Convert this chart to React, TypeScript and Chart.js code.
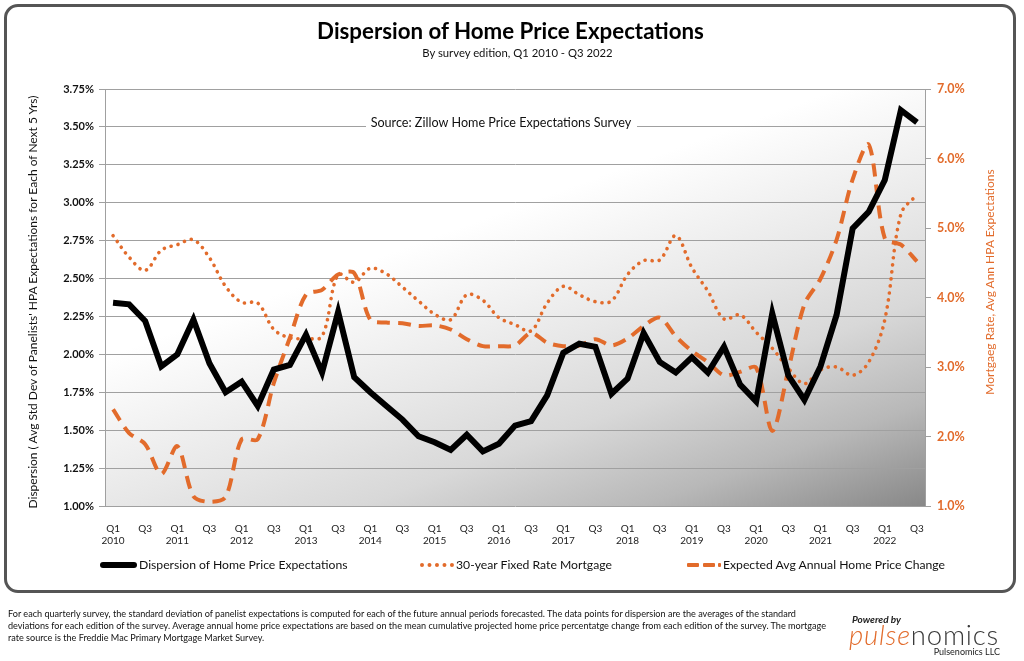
import React, { useEffect, useRef } from 'react';
import { Chart, registerables } from 'chart.js';

Chart.register(...registerables);

const quarters = [
  'Q1 2010', 'Q2 2010', 'Q3 2010', 'Q4 2010',
  'Q1 2011', 'Q2 2011', 'Q3 2011', 'Q4 2011',
  'Q1 2012', 'Q2 2012', 'Q3 2012', 'Q4 2012',
  'Q1 2013', 'Q2 2013', 'Q3 2013', 'Q4 2013',
  'Q1 2014', 'Q2 2014', 'Q3 2014', 'Q4 2014',
  'Q1 2015', 'Q2 2015', 'Q3 2015', 'Q4 2015',
  'Q1 2016', 'Q2 2016', 'Q3 2016', 'Q4 2016',
  'Q1 2017', 'Q2 2017', 'Q3 2017', 'Q4 2017',
  'Q1 2018', 'Q2 2018', 'Q3 2018', 'Q4 2018',
  'Q1 2019', 'Q2 2019', 'Q3 2019', 'Q4 2019',
  'Q1 2020', 'Q2 2020', 'Q3 2020', 'Q4 2020',
  'Q1 2021', 'Q2 2021', 'Q3 2021', 'Q4 2021',
  'Q1 2022', 'Q2 2022', 'Q3 2022',
];

// Dispersion (left axis, %)
const dispersion = [
  2.34, 2.33, 2.22, 1.92,
  2.00, 2.23, 1.94, 1.75,
  1.82, 1.66, 1.90, 1.93,
  2.13, 1.88, 2.28, 1.85,
  1.75, 1.66, 1.57, 1.46,
  1.42, 1.37, 1.47, 1.36,
  1.41, 1.53, 1.56, 1.73,
  2.01, 2.07, 2.05, 1.74,
  1.84, 2.14, 1.95, 1.88,
  1.98, 1.88, 2.05, 1.80,
  1.69, 2.27, 1.86, 1.70,
  1.92, 2.26, 2.83, 2.94,
  3.15, 3.61, 3.53,
];

// 30-year fixed rate mortgage (right axis, %)
const mortgageRate = [
  4.89, 4.58, 4.39, 4.68,
  4.76, 4.83, 4.57, 4.16,
  3.93, 3.92, 3.54, 3.42,
  3.41, 3.44, 4.33, 4.22,
  4.42, 4.34, 4.15, 3.95,
  3.76, 3.68, 4.04, 3.96,
  3.71, 3.61, 3.52, 3.92,
  4.16, 4.04, 3.94, 3.95,
  4.33, 4.53, 4.54, 4.89,
  4.43, 4.09, 3.69, 3.75,
  3.50, 3.27, 2.98, 2.76,
  2.96, 3.00, 2.88, 3.07,
  3.68, 5.20, 5.48,
];

// Expected average annual home price change (right axis, %)
const hpaExpectations = [
  2.39, 2.05, 1.89, 1.46,
  1.86, 1.14, 1.06, 1.13,
  1.96, 1.96, 2.77, 3.42,
  4.04, 4.11, 4.33, 4.35,
  3.68, 3.64, 3.63, 3.59,
  3.60, 3.54, 3.40, 3.30,
  3.30, 3.31, 3.49, 3.35,
  3.30, 3.31, 3.40, 3.31,
  3.41, 3.59, 3.71, 3.44,
  3.23, 3.07, 2.88, 2.93,
  2.99, 2.08, 2.96, 3.90,
  4.27, 4.83, 5.70, 6.20,
  4.85, 4.76, 4.52,
];

const seriesNames = [
  'Dispersion of Home Price Expectations',
  '30-year Fixed Rate Mortgage',
  'Expected Avg Annual Home Price Change',
];

const ORANGE = '#E26B2B';
const FONT = 'Lato, "Open Sans", sans-serif';

const plotBackground = {
  id: 'plotBackground',
  beforeDraw(chart: any) {
    const { ctx, chartArea: a } = chart;
    const w = a.right - a.left;
    const h = a.bottom - a.top;
    const g = ctx.createLinearGradient(
      a.left + 0.1056 * w,
      a.top + 0.5673 * h,
      a.left + 0.2822 * w,
      a.top + 1.5165 * h,
    );
    g.addColorStop(0, '#ffffff');
    g.addColorStop(0.33, '#e8e8e8');
    g.addColorStop(0.54, '#d8d8d8');
    g.addColorStop(0.77, '#b8b8b8');
    g.addColorStop(1, '#888888');
    ctx.save();
    ctx.fillStyle = g;
    ctx.fillRect(a.left, a.top, w, h);
    ctx.restore();
  },
};

const sourceLabel = {
  id: 'sourceLabel',
  beforeDatasetsDraw(chart: any) {
    const { ctx } = chart;
    const y = chart.scales.y.getPixelForValue(3.5);
    ctx.save();
    ctx.fillStyle = '#ffffff';
    ctx.fillRect(366, y - 12, 271, 22);
    ctx.font = `12.6px ${FONT}`;
    ctx.fillStyle = '#111111';
    ctx.textAlign = 'center';
    ctx.textBaseline = 'middle';
    ctx.fillText('Source: Zillow Home Price Expectations Survey', 501, y - 4);
    ctx.restore();
  },
};

function ChartCanvas() {
  const ref = useRef<HTMLCanvasElement | null>(null);
  useEffect(() => {
    if (!ref.current) return;
    const chart = new Chart(ref.current, {
      type: 'line',
      data: {
        labels: quarters,
        datasets: [
          {
            label: seriesNames[0],
            data: dispersion,
            yAxisID: 'y',
            borderColor: '#000000',
            borderWidth: 6,
            tension: 0,
            borderJoinStyle: 'miter',
            pointRadius: 0,
          },
          {
            label: seriesNames[1],
            data: mortgageRate,
            yAxisID: 'y1',
            borderColor: ORANGE,
            borderWidth: 3.6,
            borderDash: [0.1, 7],
            borderCapStyle: 'round',
            tension: 0.35,
            pointRadius: 0,
          },
          {
            label: seriesNames[2],
            data: hpaExpectations,
            yAxisID: 'y1',
            borderColor: ORANGE,
            borderWidth: 4,
            borderDash: [13, 8],
            tension: 0.3,
            pointRadius: 0,
          },
        ],
      },
      options: {
        animation: false,
        responsive: false,
        maintainAspectRatio: false,
        layout: { padding: { top: 89, left: 0, right: 0, bottom: 0 } },
        plugins: {
          legend: { display: false },
          tooltip: { enabled: false },
        },
        scales: {
          x: {
            type: 'category',
            offset: true,
            grid: { display: false },
            border: { display: false },
            ticks: {
              autoSkip: false,
              maxRotation: 0,
              minRotation: 0,
              padding: 9,
              color: '#222222',
              font: { family: FONT, size: 10, lineHeight: 1.2 },
              callback: (_v: any, i: number) => {
                const [q, yr] = quarters[i].split(' ');
                if (q === 'Q1') return [q, yr];
                if (q === 'Q3') return q;
                return '';
              },
            },
            afterFit: (s: any) => {
              s.height = 155;
            },
          },
          y: {
            position: 'left',
            min: 1,
            max: 3.75,
            ticks: {
              stepSize: 0.25,
              padding: 5,
              color: '#111111',
              font: { family: FONT, size: 11, weight: 'bold' },
              callback: (v: any) => Number(v).toFixed(2) + '%',
            },
            grid: { color: '#a0a0a0', lineWidth: 1, tickLength: 6 },
            border: { color: '#a0a0a0', width: 1 },
            afterFit: (s: any) => {
              s.width = 105;
            },
          },
          y1: {
            position: 'right',
            min: 1,
            max: 7,
            ticks: {
              stepSize: 1,
              padding: 6,
              color: ORANGE,
              font: { family: FONT, size: 12.5, weight: 'bold' },
              callback: (v: any) => Number(v).toFixed(1) + '%',
            },
            grid: { drawOnChartArea: false, color: '#a0a0a0', tickLength: 6 },
            border: { color: '#a0a0a0', width: 1 },
            afterFit: (s: any) => {
              s.width = 99;
            },
          },
        },
      } as any,
      plugins: [plotBackground, sourceLabel],
    });
    return () => chart.destroy();
  }, []);
  return (
    <canvas
      ref={ref}
      width={1024}
      height={661}
      style={{ position: 'absolute', left: 0, top: 0, width: 1024, height: 661 }}
    />
  );
}

const abs = (o: React.CSSProperties): React.CSSProperties => ({ position: 'absolute', ...o });

export default function App() {
  useEffect(() => {
    document.body.style.margin = '0';
  }, []);
  const legendText: React.CSSProperties = {
    fontFamily: FONT,
    fontSize: 12.2,
    color: '#111',
    whiteSpace: 'nowrap',
    lineHeight: '16px',
  };
  const footLine: React.CSSProperties = {
    fontFamily: FONT,
    fontSize: 9.1,
    color: '#111',
    whiteSpace: 'nowrap',
    lineHeight: '12px',
  };
  return (
    <div style={abs({ left: 0, top: 0, width: 1024, height: 661, background: '#fff', overflow: 'hidden' })}>
      <ChartCanvas />
      <div
        style={abs({
          left: 4,
          top: 4,
          width: 1012,
          height: 589,
          border: '3px solid #555',
          borderRadius: 14,
          boxSizing: 'border-box',
          pointerEvents: 'none',
        })}
      />
      <div
        style={abs({
          left: 0,
          width: 1021,
          top: 17,
          textAlign: 'center',
          fontFamily: FONT,
          fontWeight: 'bold',
          fontSize: 22.3,
          color: '#000',
          lineHeight: '28px',
        })}
      >
        Dispersion of Home Price Expectations
      </div>
      <div
        style={abs({
          left: 0,
          width: 1035,
          top: 45,
          textAlign: 'center',
          fontFamily: FONT,
          fontSize: 11.3,
          color: '#111',
          lineHeight: '16px',
        })}
      >
        By survey edition, Q1 2010 - Q3 2022
      </div>
      <div
        style={abs({
          left: 33 - 250,
          top: 302 - 8,
          width: 500,
          textAlign: 'center',
          transform: 'rotate(-90deg)',
          fontFamily: FONT,
          fontSize: 12,
          color: '#111',
          lineHeight: '16px',
          whiteSpace: 'nowrap',
        })}
      >
        Dispersion ( Avg Std Dev of Panelists' HPA Expectations for Each of Next 5 Yrs)
      </div>
      <div
        style={abs({
          left: 990 - 150,
          top: 282 - 8,
          width: 300,
          textAlign: 'center',
          transform: 'rotate(-90deg)',
          fontFamily: FONT,
          fontSize: 12,
          color: ORANGE,
          lineHeight: '16px',
          whiteSpace: 'nowrap',
        })}
      >
        Mortgaeg Rate, Avg Ann HPA Expectations
      </div>

      {/* legend */}
      <div style={abs({ left: 100, top: 562, width: 37, height: 6, background: '#000', borderRadius: 3 })} />
      <div style={abs({ left: 139, top: 557, ...legendText })}>{seriesNames[0]}</div>
      <div style={abs({ left: 420, top: 563, width: 34, height: 0, borderTop: `4px dotted ${ORANGE}` })} />
      <div style={abs({ left: 456, top: 557, ...legendText })}>{seriesNames[1]}</div>
      <div style={abs({ left: 687, top: 563, width: 12, height: 4, background: ORANGE, borderRadius: 1 })} />
      <div style={abs({ left: 703, top: 563, width: 12, height: 4, background: ORANGE, borderRadius: 1 })} />
      <div style={abs({ left: 718, top: 563, width: 3, height: 4, background: ORANGE, borderRadius: 1 })} />
      <div style={abs({ left: 723, top: 557, ...legendText })}>{seriesNames[2]}</div>

      {/* footer */}
      <div style={abs({ left: 8, top: 608, ...footLine })}>
        For each quarterly survey, the standard deviation of panelist expectations is computed for each of the future annual periods forecasted. The data points for dispersion are the averages of the standard
      </div>
      <div style={abs({ left: 8, top: 620, ...footLine })}>
        deviations for each edition of the survey. Average annual home price expectations are based on the mean cumulative projected home price percentatge change from each edition of the survey. The mortgage
      </div>
      <div style={abs({ left: 8, top: 632, ...footLine })}>
        rate source is the Freddie Mac Primary Mortgage Market Survey.
      </div>

      {/* logo */}
      <div
        style={abs({
          left: 852,
          top: 613,
          fontFamily: FONT,
          fontSize: 10,
          fontWeight: 'bold',
          fontStyle: 'italic',
          color: '#222',
          lineHeight: '12px',
        })}
      >
        Powered by
      </div>
      <div
        style={abs({
          left: 849,
          top: 620,
          fontFamily: FONT,
          fontSize: 27.5,
          fontWeight: 300,
          lineHeight: '30px',
          letterSpacing: 0.8,
          whiteSpace: 'nowrap',
        })}
      >
        <span style={{ color: ORANGE, fontStyle: 'italic' }}>pulse</span>
        <span style={{ color: '#3a3a3a' }}>nomics</span>
      </div>
      <div
        style={abs({
          left: 900,
          width: 100,
          top: 646,
          textAlign: 'right',
          fontFamily: FONT,
          fontSize: 9,
          color: '#222',
          lineHeight: '11px',
        })}
      >
        Pulsenomics LLC
      </div>
    </div>
  );
}
